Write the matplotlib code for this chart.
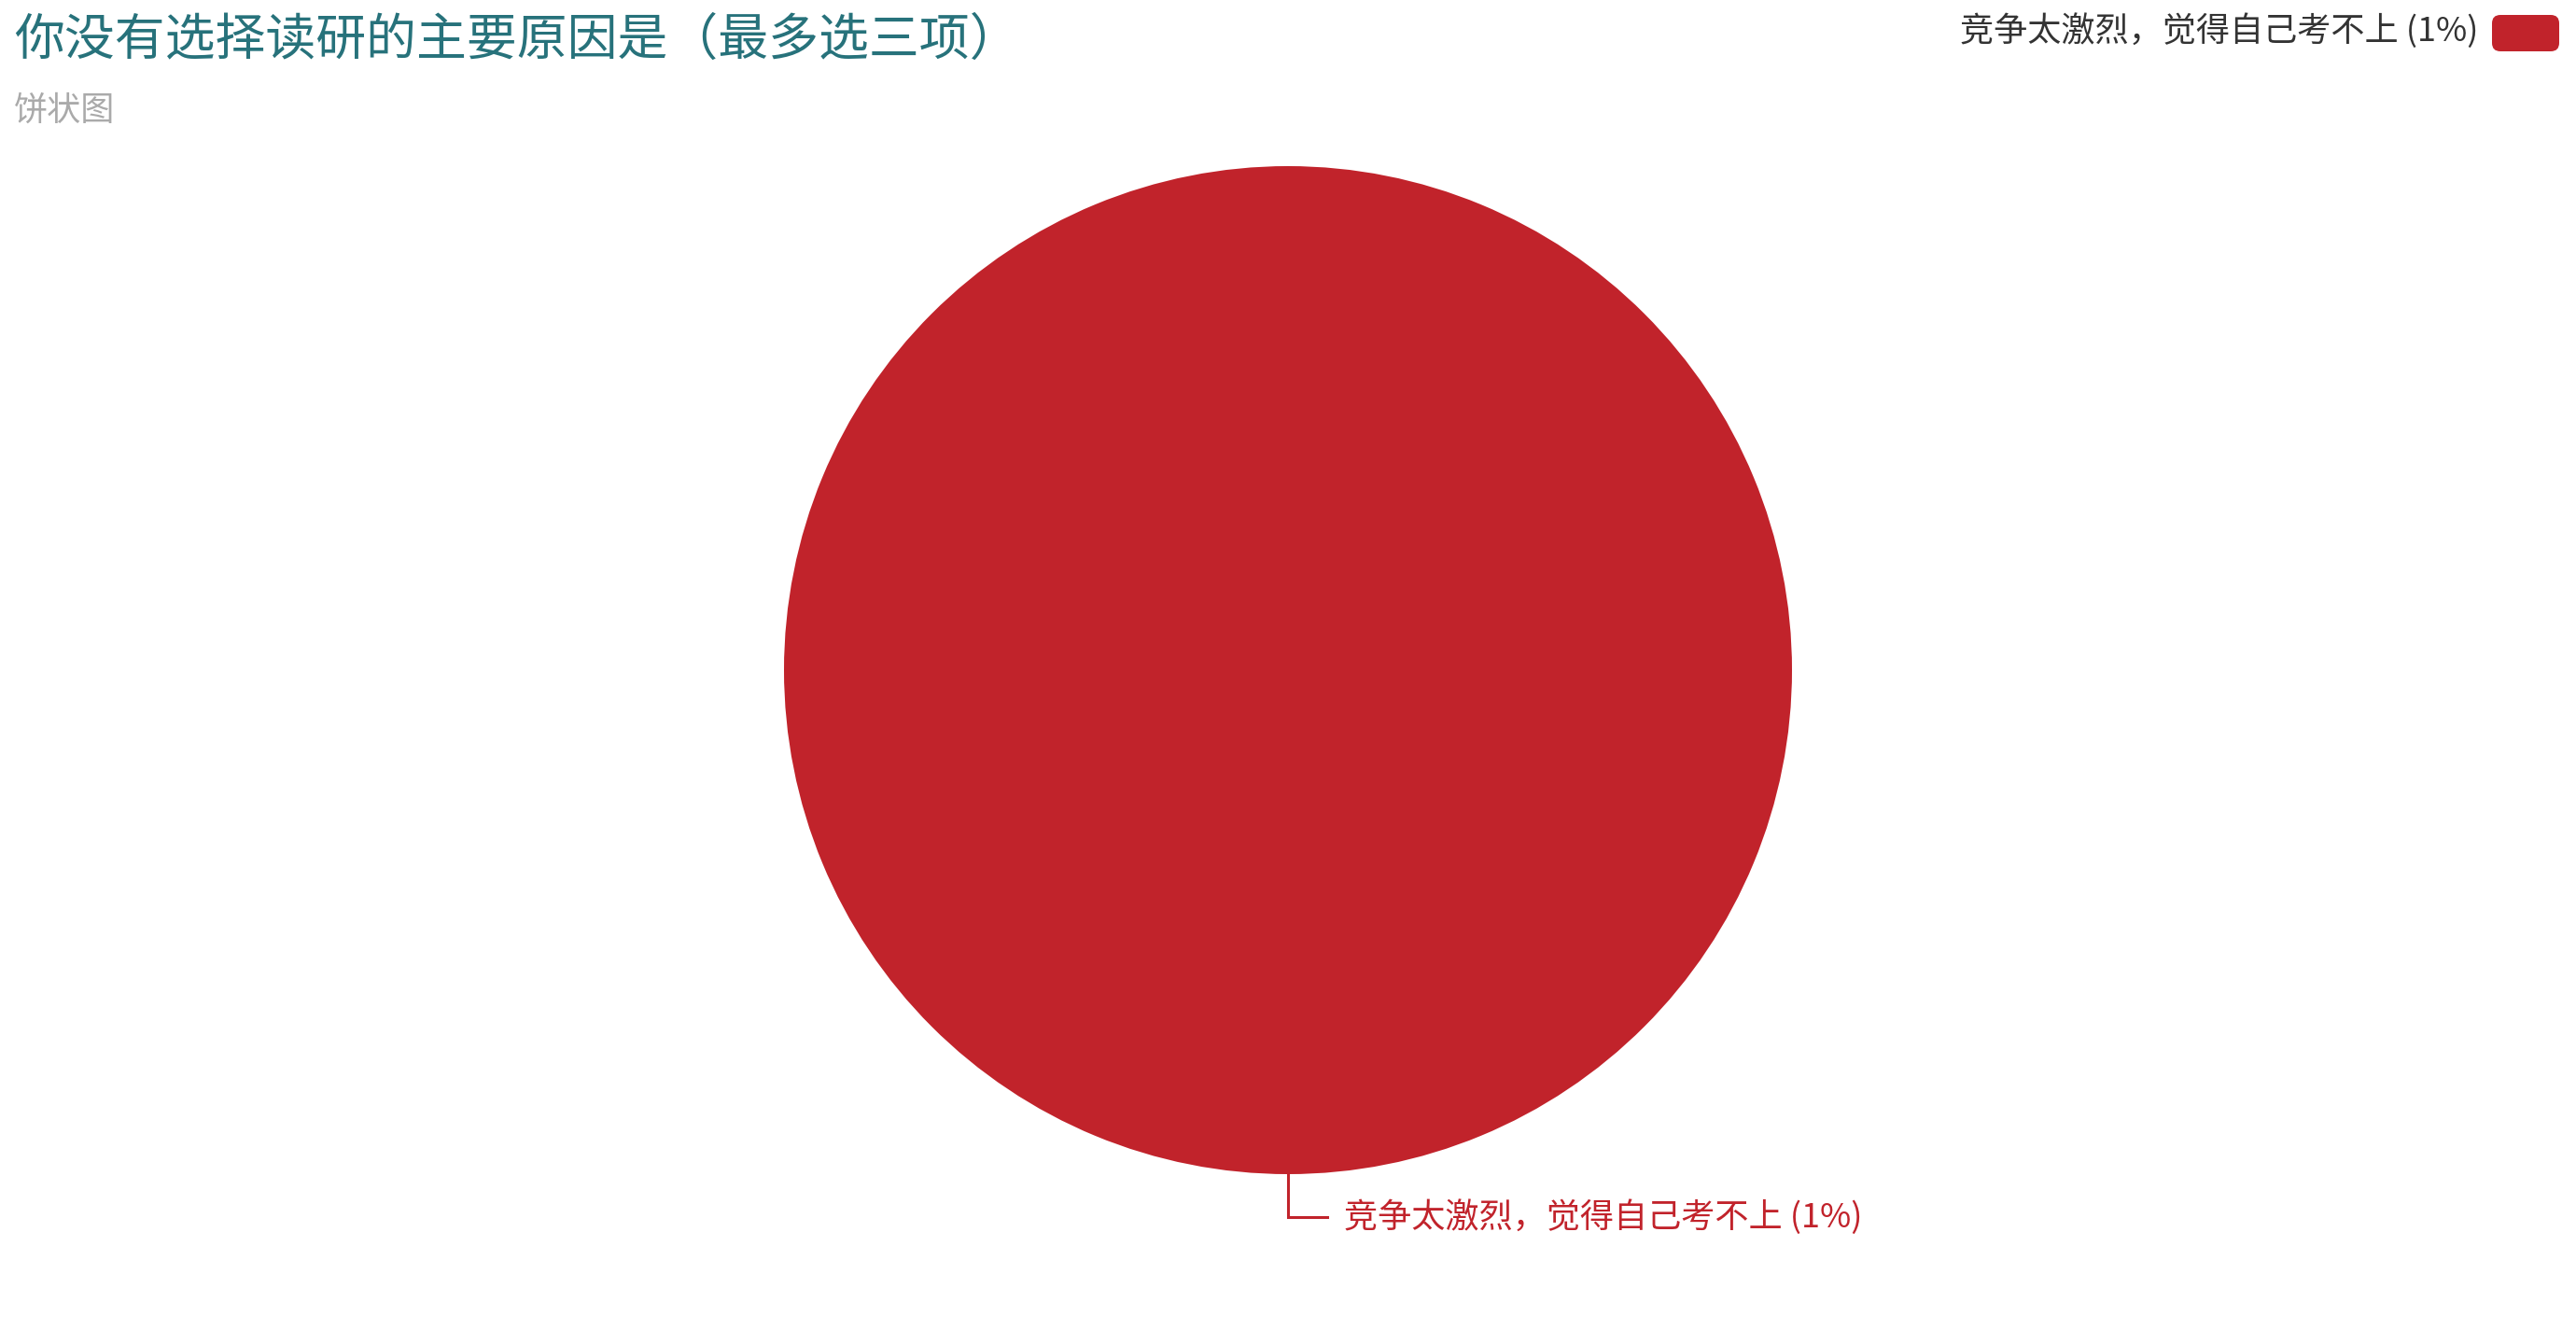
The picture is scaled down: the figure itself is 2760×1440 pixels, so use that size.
import matplotlib
matplotlib.use("Agg")
import matplotlib.pyplot as plt
from matplotlib.patches import FancyBboxPatch
import numpy as np

plt.rcParams['font.family'] = ['Noto Sans CJK SC', 'DejaVu Sans']

title = "你没有选择读研的主要原因是（最多选三项）"
subtitle = "饼状图"
categories = ["竞争太激烈，觉得自己考不上"]
values = [1]
percent_labels = ["1%"]
colors = ["#C1232B"]

W, H = 2760, 1440
fig = plt.figure(figsize=(W / 100, H / 100), dpi=100)
ax = fig.add_axes([0, 0, 1, 1])

cx, cy, r = 1380, H - 718, 540
wedges, _ = ax.pie(values, colors=colors, startangle=90, counterclock=False,
                   center=(cx, cy), radius=r,
                   wedgeprops=dict(linewidth=0))
ax.set_xlim(0, W)
ax.set_ylim(0, H)
ax.set_aspect('equal')
ax.axis('off')

# label with leader line
for w, cat, pl, col in zip(wedges, categories, percent_labels, colors):
    mid = np.deg2rad((w.theta1 + w.theta2) / 2)
    px, py = cx + r * np.cos(mid), cy + r * np.sin(mid)
    qx, qy = px, py - 46
    ex = qx + 42
    ax.plot([px, qx, ex], [py, qy, qy], color=col, lw=2.2, solid_joinstyle='miter')
    ax.text(ex + 18, qy, f"{cat} ({pl})", color=col, fontsize=26, va='center', ha='left')

# title & subtitle
ax.text(15, H - 43, title, color="#27727B", fontsize=38.8, va='center', ha='left')
ax.text(15, H - 119, subtitle, color="#AAAAAA", fontsize=26, va='center', ha='left')

# legend
for i, (cat, pl, col) in enumerate(zip(categories, percent_labels, colors)):
    ax.add_patch(FancyBboxPatch((2670, H - 55), 72, 39,
                                boxstyle="round,pad=0,rounding_size=9",
                                fc=col, ec='none'))
    ax.text(2656, H - 33, f"{cat} ({pl})", color="#333333", fontsize=26,
            va='center', ha='right')

fig.savefig("out.png", dpi=100, facecolor='white')
